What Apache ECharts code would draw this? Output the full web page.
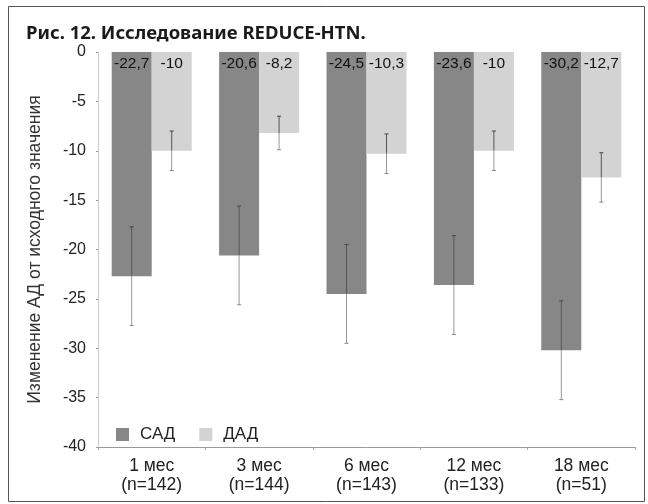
<!DOCTYPE html>
<html lang="ru">
<head>
    <meta charset="UTF-8">
    <title>REDUCE-HTN</title>
    <script src="https://cdn.jsdelivr.net/npm/echarts@6/dist/echarts.min.js"></script>
    <style>
        html, body { margin: 0; padding: 0; background: #fff; }
        #chart { width: 648px; height: 504px; }
    </style>
</head>
<body>
<div id="chart"></div>
<script>
    // данные
    var categories = ['1 мес\n(n=142)', '3 мес\n(n=144)', '6 мес\n(n=143)', '12 мес\n(n=133)', '18 мес\n(n=51)'];
    var sadValues = [-22.7, -20.6, -24.5, -23.6, -30.2];
    var dadValues = [-10, -8.2, -10.3, -10, -12.7];
    var sadErr = [5, 5, 5, 5, 5];
    var dadErr = [2, 1.7, 2, 2, 2.5];

    var barW = 40;

    function errSeries(name, values, errs, offset) {
        return {
            name: name + ' err',
            type: 'custom',
            z: 5,
            silent: true,
            data: values.map(function (v, i) { return [i, v, errs[i]]; }),
            renderItem: function (params, api) {
                var i = api.value(0), v = api.value(1), e = api.value(2);
                var top = api.coord([i, v + e]);
                var mid = api.coord([i, v]);
                var bot = api.coord([i, v - e]);
                var x = top[0] + offset;
                return {
                    type: 'group',
                    children: [
                        { type: 'line', shape: { x1: x, y1: top[1], x2: x, y2: mid[1] }, style: { stroke: '#555', lineWidth: 1 } },
                        { type: 'line', shape: { x1: x, y1: mid[1], x2: x, y2: bot[1] }, style: { stroke: '#999', lineWidth: 1 } },
                        { type: 'line', shape: { x1: x - 2, y1: top[1], x2: x + 2, y2: top[1] }, style: { stroke: '#444', lineWidth: 1 } },
                        { type: 'line', shape: { x1: x - 2, y1: bot[1], x2: x + 2, y2: bot[1] }, style: { stroke: '#888', lineWidth: 1 } }
                    ]
                };
            }
        };
    }

    function commaFmt(p) { return String(p.value).replace('.', ','); }

    var chart = echarts.init(document.getElementById('chart'));
    var option = {
        animation: false,
        textStyle: { fontFamily: 'Liberation Sans, Arial, sans-serif' },
        graphic: [{
            type: 'rect',
            left: 6, top: 4,
            shape: { width: 636, height: 495 },
            style: { fill: 'none', stroke: '#555', lineWidth: 1 },
            silent: true
        }],
        title: {
            text: 'Рис. 12. Исследование REDUCE-HTN.',
            left: 21,
            top: 19,
            textStyle: { fontFamily: 'Noto Sans', fontWeight: 'bold', fontSize: 18.5, color: '#1a1a1a' }
        },
        legend: {
            left: 111,
            top: 421,
            itemWidth: 13,
            itemHeight: 13,
            itemGap: 24,
            icon: 'rect',
            data: ['САД', 'ДАД'],
            textStyle: { fontSize: 17, color: '#222', padding: [0, 0, 0, 6] }
        },
        grid: { left: 98, right: 13, top: 52, bottom: 57 },
        xAxis: {
            type: 'category',
            data: categories,
            position: 'bottom',
            axisLine: { onZero: false, lineStyle: { color: '#999' } },
            axisTick: { show: true, length: 3, lineStyle: { color: '#aaa' } },
            axisLabel: { fontSize: 17.5, color: '#222', lineHeight: 19, margin: 10 }
        },
        yAxis: {
            type: 'value',
            min: -40,
            max: 0,
            interval: 5,
            name: 'Изменение АД от исходного значения',
            nameLocation: 'middle',
            nameGap: 54,
            nameTextStyle: { fontSize: 17.5, color: '#333' },
            splitLine: { show: false },
            axisLine: { show: true, lineStyle: { color: '#ccc' } },
            axisTick: { show: true, length: 2, lineStyle: { color: '#999' } },
            axisLabel: { fontSize: 16, color: '#222', margin: 12 }
        },
        series: [
            {
                name: 'САД',
                type: 'bar',
                data: sadValues,
                barWidth: barW,
                barGap: '0%',
                itemStyle: { color: '#878787' },
                label: {
                    show: true, position: 'insideTop', distance: 4,
                    fontSize: 15.5, color: '#111', formatter: commaFmt
                }
            },
            {
                name: 'ДАД',
                type: 'bar',
                data: dadValues,
                barWidth: barW,
                itemStyle: { color: '#d3d3d3' },
                label: {
                    show: true, position: 'insideTop', distance: 4,
                    fontSize: 15.5, color: '#111', formatter: commaFmt
                }
            },
            errSeries('САД', sadValues, sadErr, -barW / 2),
            errSeries('ДАД', dadValues, dadErr, barW / 2)
        ]
    };
    chart.setOption(option);
</script>
</body>
</html>
